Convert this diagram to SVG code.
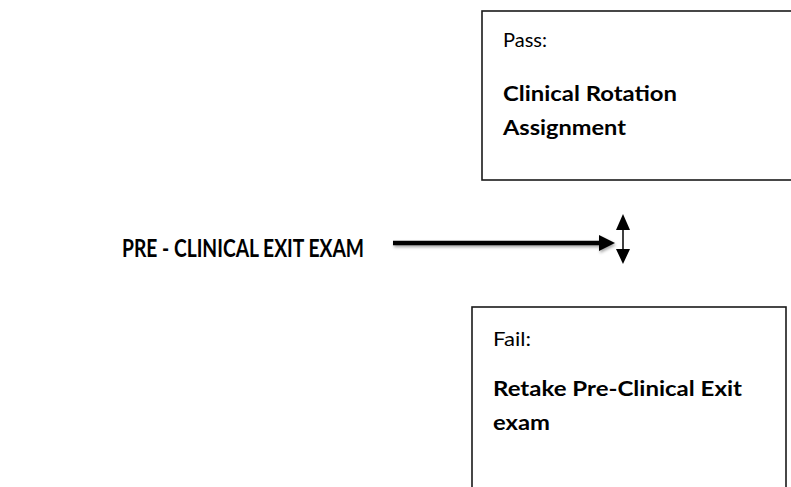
<svg xmlns="http://www.w3.org/2000/svg" width="791" height="487" viewBox="0 0 791 487">
  <defs>
    <style>
      .box { fill: #ffffff; stroke: #1a1a1a; stroke-width: 1.6; }
      .reg { font-family: Lato, "Open Sans", sans-serif; font-size: 20px; fill: #000; }
      .bold { font-family: Lato, "Open Sans", sans-serif; font-size: 21px; font-weight: bold; fill: #000; }
      .title { font-family: Lato, "Open Sans", sans-serif; font-size: 25px; font-weight: bold; fill: #000; }
    </style>
    <filter id="shadow" x="-10%" y="-100%" width="120%" height="300%">
      <feDropShadow dx="1" dy="2" stdDeviation="1.5" flood-color="#000" flood-opacity="0.35"/>
    </filter>
  </defs>

  <rect width="791" height="487" fill="#ffffff"/>

  <g id="pass">
    <rect class="box" x="482" y="11" width="320" height="169"/>
    <text class="reg" x="503" y="47" textLength="44" lengthAdjust="spacingAndGlyphs">Pass:</text>
    <text class="bold" x="503" y="101" textLength="174" lengthAdjust="spacingAndGlyphs">Clinical Rotation</text>
    <text class="bold" x="503" y="135" textLength="123" lengthAdjust="spacingAndGlyphs">Assignment</text>
  </g>

  <g id="fail">
    <rect class="box" x="472" y="307" width="314" height="200"/>
    <text class="reg" x="493" y="346" textLength="38" lengthAdjust="spacingAndGlyphs">Fail:</text>
    <text class="bold" x="493" y="396" textLength="249" lengthAdjust="spacingAndGlyphs">Retake Pre-Clinical Exit</text>
    <text class="bold" x="493" y="430" textLength="57" lengthAdjust="spacingAndGlyphs">exam</text>
  </g>

  <g id="exam">
    <text class="title" x="122" y="257" textLength="242" lengthAdjust="spacingAndGlyphs">PRE - CLINICAL EXIT EXAM</text>
  </g>

  <g id="connectors">
    <g filter="url(#shadow)">
      <line x1="393" y1="243" x2="601" y2="243" stroke="#000" stroke-width="4.5"/>
      <polygon points="615,243 599,235 599,251" fill="#000"/>
    </g>
    <line x1="623" y1="228" x2="623" y2="251" stroke="#000" stroke-width="1.5"/>
    <polygon points="623,214 616,230 630,230" fill="#000"/>
    <polygon points="623,264 616,249 630,249" fill="#000"/>
  </g>
</svg>
